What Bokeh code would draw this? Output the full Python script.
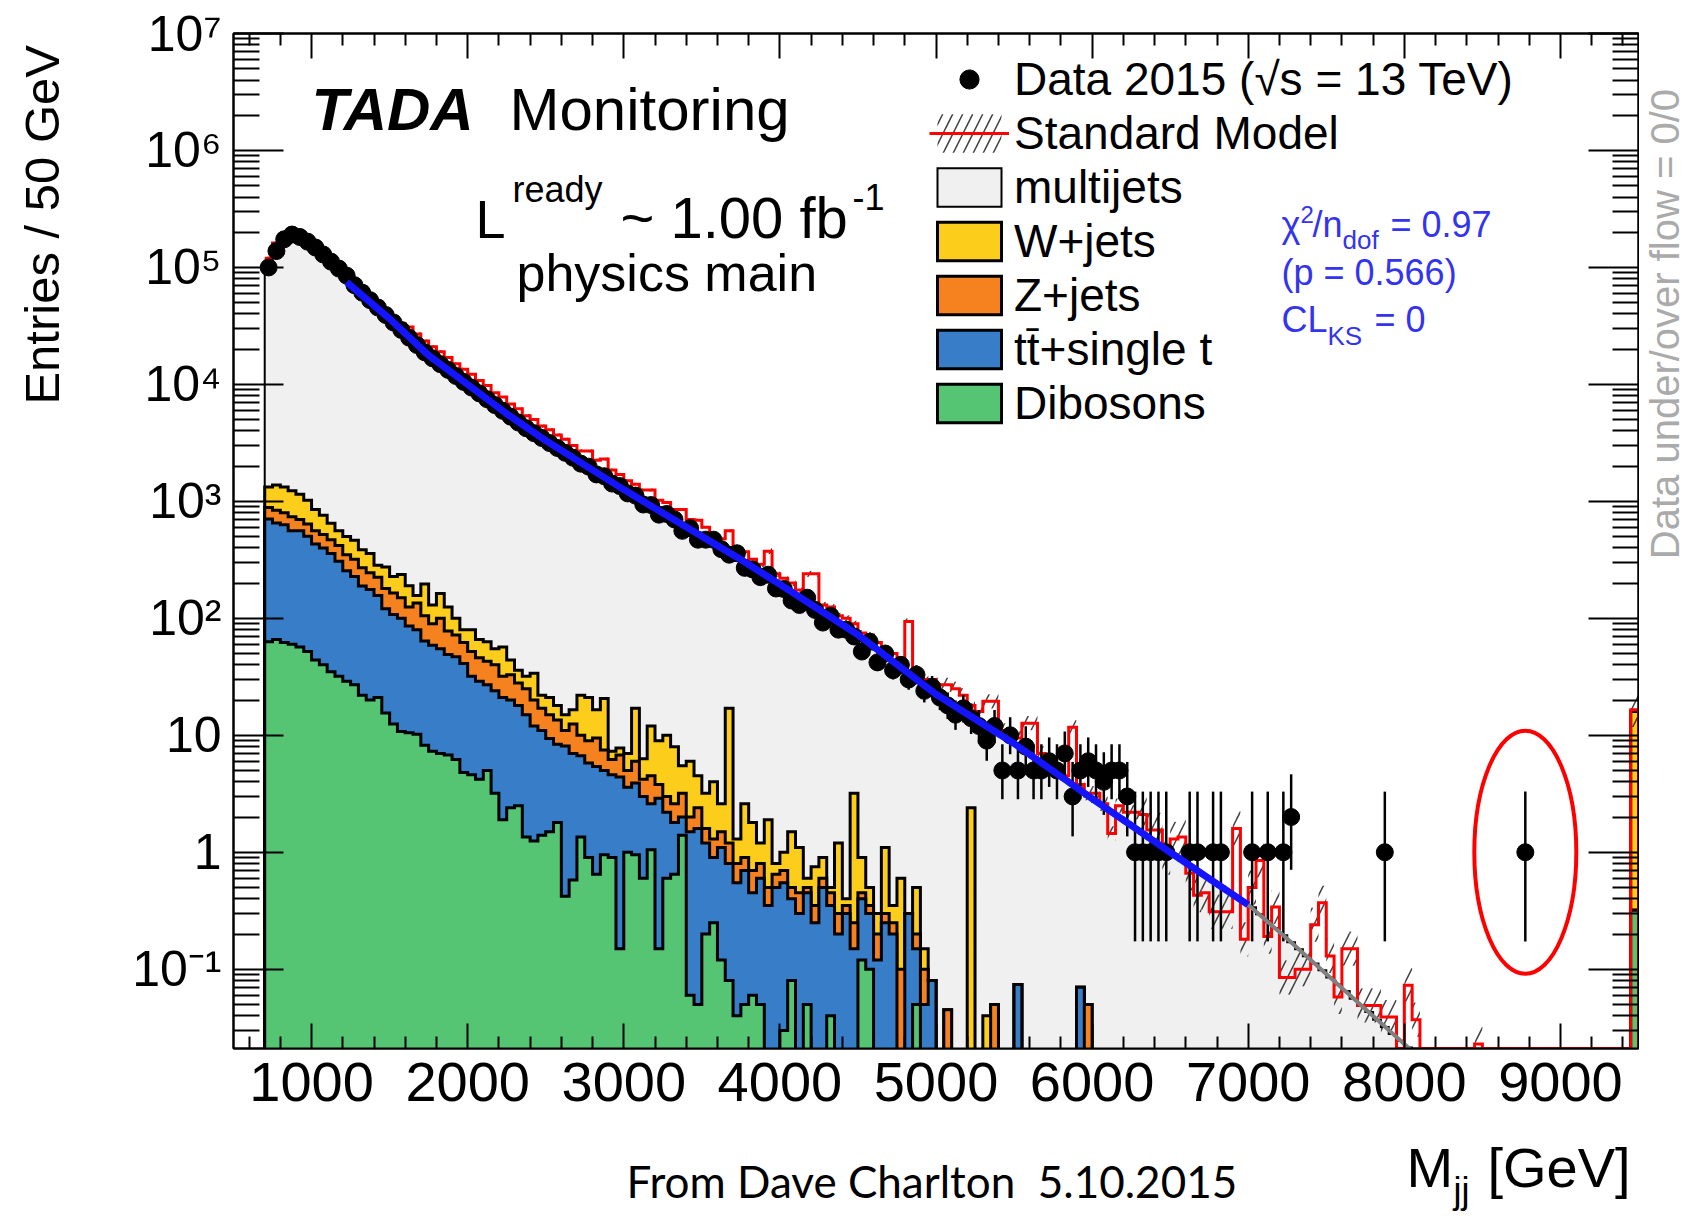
import math
import numpy as np
from bokeh.plotting import figure
from bokeh.layouts import column, row
from bokeh.models import (Range1d, FixedTicker, LogAxis, LinearAxis, CustomJSTickFormatter,
                          Label, Legend, LegendItem)
from bokeh.core.properties import value
from bokeh.embed import file_html
from bokeh.resources import INLINE

# ---------------- values ----------------
FIRST_EDGE = 700.0      # GeV, first filled bin
BIN_WIDTH = 50.0        # GeV
N_BINS = 176            # 700 ... 9500 GeV (last bin holds the overflow)

data_counts = [
    100000, 138000, 174000, 191000, 182000, 166000, 148000, 129000, 112000, 97700,
    85100, 70500, 60800, 52500, 45400, 39200, 33800, 29200, 25100, 21700,
    18800, 16700, 14900, 13300, 11800, 10500, 9400, 8380, 7470, 6650,
    5940, 5300, 4720, 4220, 3830, 3480, 3150, 2860, 2600, 2360,
    2100, 1980, 1700, 1640, 1420, 1350, 1170, 1120, 940, 930,
    770, 780, 700, 560, 590, 470, 470, 470, 390, 350,
    360, 270, 262, 225, 236, 180, 178, 142, 130, 150,
    118, 92, 105, 80, 80, 70, 52, 63, 42, 50,
    36, 40, 30, 33, 24, 26, 21, 18, 15, 17,
    14, 12, 9, 12, 5, 10, 5, 8, 5, 5,
    6, 5, 7, 3, 5, 6, 5, 4, 5, 5,
    3, 1, 1, 1, 1, 1, 0, 0, 1, 1,
    0, 1, 1, 0, 0, 0, 1, 0, 1, 0,
    1, 2, 0, 0, 0, 0, 0, 0, 0, 0,
    0, 0, 0, 1, 0, 0, 0, 0, 0, 0,
    0, 0, 0, 0, 0, 0, 0, 0, 0, 0,
    0, 1, 0, 0, 0, 0, 0, 0, 0, 0,
    0, 0, 0, 0, 0, 0]

# Standard Model total (red histogram)
sm_total = [
    120000, 162000, 195000, 210000, 200000, 180000, 160000, 140000, 122000, 107000,
    93000, 79000, 68000, 58500, 51000, 44000, 38000, 33000, 31000, 27000,
    23500, 21000, 19000, 17000, 15000, 13500, 12200, 10800, 9800, 8500,
    7800, 6800, 6200, 5400, 5000, 4400, 4100, 3700, 3400, 3000,
    2700, 2700, 2250, 2300, 1850, 1700, 1500, 1400, 1250, 1250,
    1020, 980, 850, 850, 700, 690, 600, 520, 480, 560,
    400, 370, 320, 290, 375, 240, 220, 200, 175, 240,
    240, 130, 125, 105, 100, 90, 75, 72, 62, 55,
    50, 42, 94, 34, 30, 30, 27, 27, 25, 22,
    18, 16, 19.5, 19.5, 11, 10, 9.5, 12.7, 12.7, 7,
    6, 5.5, 4.5, 11.7, 3.8, 3.2, 3.2, 2.6, 1.45, 2.5,
    2.2, 2.2, 2.1, 1.55, 1.55, 0.9, 1.3, 1.35, 0.66, 0.43,
    0.45, 0.31, 0.31, 0.31, 1.6, 0.18, 0.5, 0.85, 0.19, 0.34,
    0.085, 0.085, 0.1, 0.1, 0.24, 0.37, 0.13, 0.058, 0.15, 0.15,
    0.049, 0.049, 0.049, 0.039, 0.039, 0, 0.073, 0.037, 0, 0,
    0, 0, 0, 0, 0, 0.023, 0, 0, 0, 0,
    0, 0, 0, 0, 0, 0, 0, 0, 0, 0,
    0, 0, 0, 0, 0, 16.5]

# stack height of the full stack (multijets on top)
multijets_level = [
    100000, 138000, 174000, 191000, 182000, 166000, 148000, 129000, 112000, 97700,
    85100, 70500, 60800, 52500, 45400, 39200, 33800, 29200, 25100, 21700,
    18800, 16700, 14900, 13300, 11800, 10500, 9400, 8380, 7470, 6650,
    5940, 5300, 4720, 4220, 3830, 3480, 3150, 2860, 2600, 2360,
    2140, 1940, 1760, 1600, 1450, 1320, 1200, 1090, 997, 910,
    830, 758, 692, 631, 576, 526, 480, 438, 400, 365,
    333, 304, 275, 249, 226, 205, 185, 168, 152, 138,
    125, 113, 102, 93, 84, 76, 68, 61, 54, 48,
    43, 38, 34, 30, 27, 24, 21.3, 19.4, 17.6, 16,
    14.5, 13.2, 11.9, 10.8, 9.8, 8.9, 8.1, 7.2, 6.5, 5.8,
    5.2, 4.7, 4.2, 3.8, 3.4, 3.0, 2.7, 2.5, 2.2, 2.0,
    1.8, 1.61, 1.45, 1.30, 1.17, 1.05, 0.95, 0.855, 0.77, 0.695,
    0.627, 0.565, 0.51, 0.46, 0.414, 0.373, 0.339, 0.295, 0.257, 0.224,
    0.195, 0.17, 0.148, 0.129, 0.112, 0.098, 0.085, 0.074, 0.065, 0.056,
    0.049, 0.043, 0.037, 0.032, 0.028, 0.0245, 0.0214, 0.0186]

# cumulative stack heights of the small backgrounds (bins from 700 GeV)
wjets_level = [
    1330, 1380, 1330, 1230, 1150, 1020, 850, 760, 650, 560,
    500, 465, 385, 358, 285, 275, 228, 237, 190, 157,
    197, 130, 163, 125, 100, 80, 80, 66, 63, 55,
    57, 44, 36, 32, 34, 22, 21, 18, 15, 16.5,
    22, 21, 16.5, 20.6, 7.3, 7.8, 7.0, 17, 6.3, 12,
    9, 10, 8, 5.5, 6, 4.5, 3.2, 4, 2.6, 17,
    1.3, 2.6, 1.8, 1.2, 1.9, 0.8, 1.0, 1.5, 1.1, 0.6,
    0.75, 0.9, 0.5, 1.2, 0.4, 3.2, 0.9, 0.5, 0.3, 1.1,
    0.35, 0.6, 0.3, 0.5, 0.15, 0.08, 0, 0.045, 0, 0,
    2.4, 0, 0.04, 0.05, 0, 0, 0.074, 0, 0, 0,
    0, 0, 0, 0, 0.07, 0.05]
zjets_level = [
    884, 840, 800, 740, 700, 640, 560, 520, 470, 420,
    350, 320, 270, 245, 225, 180, 165, 150, 125, 135,
    105, 90, 100, 78, 72, 62, 52, 46, 43, 40,
    32, 33, 28, 25, 20, 17, 15, 13.5, 11, 12.5,
    10, 9, 9.5, 7.5, 6.2, 6.8, 5.0, 6.0, 4.2, 4.5,
    3.8, 3.0, 2.6, 3.2, 2.0, 2.4, 1.6, 1.3, 1.5, 1.2,
    0.8, 0.9, 0.7, 0.8, 0.5, 0.65, 0.7, 0.5, 0.45, 0.5,
    0.35, 0.6, 0.45, 0.3, 0.35, 0.25, 0.45, 0.35, 0.2, 0.3,
    0.25, 0.1, 0.3, 0.2, 0.1, 0.08, 0, 0.045, 0, 0,
    0, 0, 0, 0.05, 0, 0, 0.074, 0, 0, 0,
    0, 0, 0, 0, 0.07, 0.05]
top_level = [
    705, 653, 630, 562, 562, 502, 432, 400, 358, 308,
    255, 228, 189, 176, 157, 121, 108, 100, 86, 80,
    64, 59, 55, 49, 47, 41, 32, 29, 27, 24,
    21, 20, 18, 15, 12, 11, 9.4, 8.4, 8.1, 7.0,
    6.7, 5.8, 5.4, 5.0, 4.6, 4.4, 3.6, 3.9, 3.0, 2.6,
    2.9, 2.2, 1.8, 2.0, 1.5, 1.6, 1.2, 0.9, 1.1, 0.8,
    0.55, 0.7, 0.45, 0.6, 0.35, 0.5, 0.55, 0.4, 0.3, 0.45,
    0.25, 0.5, 0.35, 0.2, 0.3, 0.15, 0.4, 0.3, 0.12, 0.25,
    0.2, 0, 0.3, 0.15, 0.05, 0.08, 0, 0, 0, 0,
    0, 0, 0, 0, 0, 0, 0.074, 0, 0, 0,
    0, 0, 0, 0, 0.07, 0]
dibosons_level = [
    63, 66, 62, 60, 57, 52, 44, 40, 35, 32,
    29, 27, 22, 20, 21, 15.5, 12.5, 10.8, 10.5, 10.2,
    8.2, 7.3, 7.0, 6.8, 6.2, 4.8, 4.6, 4.2, 5.0, 3.2,
    1.9, 2.4, 2.5, 1.35, 1.25, 1.4, 1.5, 1.8, 0.42, 0.58,
    1.35, 0.9, 0.65, 0.95, 0.9, 0.15, 1.0, 0.95, 0.6, 1.05,
    0.15, 0.6, 0.65, 1.4, 0.06, 0.05, 0.2, 0.25, 0.12, 0.08,
    0.04, 0.05, 0.06, 0.05, 0, 0, 0.03, 0.08, 0, 0.05,
    0, 0, 0.04, 0, 0, 0, 0.12, 0.1, 0, 0,
    0, 0, 0, 0.05]
overflow_wjets_level = 16.0
overflow_dibosons_level = 0.32

# fitted dijet function (blue) and its extrapolation (grey)
fit_mass = [1225, 1500, 1750, 2000, 2250, 2500, 2750, 3000, 3250, 3500, 3750, 4000,
            4250, 4500, 4750, 5000, 5250, 5500, 5750, 6000, 6250, 6500, 6750, 7000]
fit_value = [75000, 36400, 17700, 9980, 5610, 3310, 2040, 1260, 794, 502, 318, 195,
             119, 72.4, 40.3, 22.4, 13.8, 8.51, 4.95, 2.88, 1.70, 1.0, 0.596, 0.355]
extrap_mass = [7000, 7250, 7500, 7750, 8000, 8100]
extrap_value = [0.355, 0.182, 0.0912, 0.0457, 0.0229, 0.0174]

# relative SM uncertainty (hatched band), by mass region
unc_region_edges = [700, 3700, 5000, 6300, 9500]
unc_region_rel = [0.03, 0.06, 0.15, 0.40]

x_major_ticks = [1000, 2000, 3000, 4000, 5000, 6000, 7000, 8000, 9000]
y_decades = [-1, 0, 1, 2, 3, 4, 5, 6, 7]

# ---------------- geometry / style ----------------
W, H = 1692, 1216
W_LEFT, W_RIGHT = 80, 53          # side strips holding the rotated titles
H_TOP = 1130                      # height of the top row (main plot)
H_BOTTOM = H - H_TOP
FL, FR, FT, FB = 233, 1638, 33, 1048   # frame edges on the page
Y_MIN, Y_MAX = 0.021, 1e7
X_MIN, X_MAX = 500, 9500
FLOOR = 1e-4
FONT = "Liberation Sans"
MID = 0.35                         # baseline -> text-box middle, in font sizes

C_MJ, C_W, C_Z, C_TOP, C_DIB = "#f0f0f0", "#fccd1b", "#f5821f", "#377dc8", "#55c473"
C_INFO = "#3434ee"

W_MAIN = W - W_LEFT - W_RIGHT
p = figure(width=W_MAIN, height=H_TOP, x_range=Range1d(X_MIN, X_MAX),
           y_range=Range1d(Y_MIN, Y_MAX), y_axis_type="log", output_backend="svg",
           toolbar_location=None, title=None,
           min_border_left=FL - W_LEFT, min_border_right=(W - W_RIGHT) - FR,
           min_border_top=FT, min_border_bottom=H_TOP - FB)
p.grid.visible = False
p.outline_line_color = "black"
p.outline_line_width = 2
p.background_fill_color = "white"
p.border_fill_color = "white"

edges = FIRST_EDGE + BIN_WIDTH * np.arange(N_BINS + 1)
lo, hi = edges[:-1], edges[1:]
centers = 0.5 * (lo + hi)


def full(head, overflow=0.0):
    arr = np.zeros(N_BINS)
    arr[:len(head)] = head
    if overflow:
        arr[-1] = overflow
    return arr


def step_outline(vals, floor, close_left=True):
    v = np.where(np.asarray(vals) > 0, vals, floor)
    xs = np.concatenate([[edges[0]], np.column_stack([lo, hi]).ravel(), [edges[-1]]])
    ys = np.concatenate([[floor], np.column_stack([v, v]).ravel(), [floor]])
    if not close_left:
        xs, ys = xs[1:], ys[1:]
    return xs, ys


mj = full(multijets_level)
wl = full(wjets_level, overflow_wjets_level)
zl = full(zjets_level, overflow_dibosons_level)
tl = full(top_level, overflow_dibosons_level)
dl = full(dibosons_level, overflow_dibosons_level)
sm = np.asarray(sm_total, dtype=float)
dat = np.asarray(data_counts, dtype=float)

stack_r = {}
for name, lvl, col, lw in [("mj", mj, C_MJ, 2), ("w", wl, C_W, 3), ("z", zl, C_Z, 3),
                           ("t", tl, C_TOP, 3), ("d", dl, C_DIB, 3)]:
    xs, ys = step_outline(lvl, FLOOR)
    stack_r[name] = p.patch(xs, ys, fill_color=col, line_color="black", line_width=lw,
                            line_join="miter")

# hatched SM uncertainty
rel = np.zeros(N_BINS)
for a, b, r in zip(unc_region_edges[:-1], unc_region_edges[1:], unc_region_rel):
    rel[(centers >= a) & (centers < b)] = r
m = sm > 0
hatch_r = p.quad(left=lo[m], right=hi[m], bottom=sm[m] / (1 + rel[m]), top=sm[m] * (1 + rel[m]),
                 fill_alpha=0, line_alpha=0, hatch_pattern="/", hatch_color="black",
                 hatch_weight=1.5, hatch_scale=20, hatch_alpha=0.75)

# red SM outline
xs, ys = step_outline(sm, Y_MIN, close_left=False)
red_r = p.line(xs, ys, line_color="#ff0000", line_width=3, line_join="miter")

# data with Poisson (Garwood) intervals
garwood = {1: (0.173, 3.300), 2: (0.708, 4.638), 3: (1.367, 5.918), 4: (2.086, 7.163),
           5: (2.840, 8.382), 6: (3.620, 9.584), 7: (4.419, 10.77), 8: (5.232, 11.95),
           9: (6.057, 13.11), 10: (6.891, 14.27)}
md = dat > 0
dx, dn = centers[md], dat[md]
elo = np.array([garwood[int(n)][0] if n <= 10 else n - math.sqrt(n) for n in dn])
ehi = np.array([garwood[int(n)][1] if n <= 10 else n + math.sqrt(n) + 1 for n in dn])
p.segment(x0=dx, y0=elo, x1=dx, y1=ehi, line_color="black", line_width=2.5)
data_r = p.scatter(dx, dn, marker="circle", size=17, fill_color="black", line_color="black")

# fit and its extrapolation
p.line(fit_mass, fit_value, line_color="#1414ff", line_width=7)
p.line(extrap_mass, extrap_value, line_color="#808080", line_width=4)

# ellipse around the highest-mass event
idx = int(np.where((dat > 0) & (centers > 8500))[0][0])
p.ellipse(x=[centers[idx]], y=[dat[idx]], width=[102], height=[243],
          width_units="screen", height_units="screen",
          fill_alpha=0, line_color="#ff0000", line_width=4)

# ---------------- axes ----------------
x_minor = [v for v in range(600, 9500, 200) if v % 1000 != 0]
y_major = [10.0 ** e for e in y_decades]
y_minor = [k * 10.0 ** e for e in range(-2, 7) for k in range(2, 10)
           if Y_MIN < k * 10.0 ** e < Y_MAX]

sup_js = """
const e = Math.round(Math.log10(tick));
if (e === 0) { return "1"; }
if (e === 1) { return "10"; }
const sup = {"-": "\\u207b", "0": "\\u2070", "1": "\\u00b9", "2": "\\u00b2", "3": "\\u00b3",
             "4": "\\u2074", "5": "\\u2075", "6": "\\u2076", "7": "\\u2077", "8": "\\u2078",
             "9": "\\u2079"};
return "10" + String(e).split("").map(c => sup[c]).join("");
"""

xb = p.xaxis[0]
yl = p.yaxis[0]
xb.ticker = FixedTicker(ticks=x_major_ticks, minor_ticks=x_minor)
yl.ticker = FixedTicker(ticks=y_major, minor_ticks=y_minor)
yl.formatter = CustomJSTickFormatter(code=sup_js)

xt = LinearAxis(ticker=FixedTicker(ticks=x_major_ticks, minor_ticks=x_minor),
                formatter=CustomJSTickFormatter(code="return '';"))
yr = LogAxis(ticker=FixedTicker(ticks=y_major, minor_ticks=y_minor),
             formatter=CustomJSTickFormatter(code="return '';"))
p.add_layout(xt, "above")
p.add_layout(yr, "right")

for ax in (xb, xt):
    ax.major_tick_in, ax.minor_tick_in = 25, 12
for ax in (yl, yr):
    ax.major_tick_in, ax.minor_tick_in = 50, 26
for ax in (xb, xt, yl, yr):
    ax.major_tick_out = 0
    ax.minor_tick_out = 0
    ax.axis_line_width = 2
    ax.major_tick_line_width = 2
    ax.minor_tick_line_width = 2
    ax.major_label_text_font = FONT
    ax.major_label_text_color = "black"
for ax in (xt, yr):
    ax.major_label_text_font_size = "1px"
    ax.major_label_standoff = 0
xb.major_label_text_font_size = "56px"
xb.major_label_standoff = 14
yl.major_label_text_font_size = "50px"
yl.major_label_standoff = 12

# ---------------- legend ----------------
legend = Legend(items=[
    LegendItem(label="Data 2015 (\u221as = 13 TeV)", renderers=[data_r]),
    LegendItem(label="Standard Model", renderers=[hatch_r, red_r]),
    LegendItem(label="multijets", renderers=[stack_r["mj"]]),
    LegendItem(label="W+jets", renderers=[stack_r["w"]]),
    LegendItem(label="Z+jets", renderers=[stack_r["z"]]),
    LegendItem(label="tt\u0304+single t", renderers=[stack_r["t"]]),
    LegendItem(label="Dibosons", renderers=[stack_r["d"]]),
], location=(696, 618), glyph_width=80, glyph_height=48, label_standoff=5, spacing=0,
    padding=0, margin=0, border_line_alpha=0, background_fill_alpha=0,
    label_text_font=FONT, label_text_font_size="46px", label_text_color="black")
p.add_layout(legend)


# ---------------- texts inside the frame ----------------
def add_text(text, x, baseline_y, size, color="black", font=FONT, style="normal"):
    y_mid = baseline_y - MID * size
    p.add_layout(Label(x=x - FL, y=FB - y_mid, x_units="screen", y_units="screen", text=text,
                       text_font=font, text_font_size=f"{size}px", text_color=color,
                       text_font_style=style, text_align="left", text_baseline="middle"))


add_text("TADA", 311, 130, 60, style="bold italic")
add_text("Monitoring", 509, 130, 60)
add_text("L", 475, 237, 54)
add_text("ready", 512, 202, 36)
add_text("~ 1.00 fb", 620, 237, 58)
add_text("-1", 852, 209, 36)
add_text("physics main", 516, 291, 52)

add_text("\u03c7", 1281, 237, 36, color=C_INFO)
add_text("2", 1300, 222, 24, color=C_INFO)
add_text("/n", 1312, 237, 36, color=C_INFO)
add_text("dof", 1342, 249, 26, color=C_INFO)
add_text("= 0.97", 1390, 237, 36, color=C_INFO)
add_text("(p = 0.566)", 1281, 285, 36, color=C_INFO)
add_text("CL", 1281, 332, 36, color=C_INFO)
add_text("KS", 1327, 345, 26, color=C_INFO)
add_text("= 0", 1374, 332, 36, color=C_INFO)


# ---------------- strips around the plot for the outer titles ----------------
def strip(width, height):
    f = figure(width=width, height=height, x_range=Range1d(0, width),
               y_range=Range1d(height, 0), output_backend="svg", toolbar_location=None,
               title=None, x_axis_location=None, y_axis_location=None, min_border=0)
    f.grid.visible = False
    f.outline_line_color = None
    f.background_fill_color = "white"
    f.border_fill_color = "white"
    return f


def strip_text(f, text, x, y, size, color="black", font=FONT, angle=0.0, align="left"):
    # (x, y): anchor on the middle line of the glyph box
    f.text(x=[x], y=[y], text=[text], text_font=value(font), text_font_size=f"{size}px",
           text_color=color, text_align=align, text_baseline="middle", angle=angle)


left = strip(W_LEFT, H_TOP)
strip_text(left, "Entries / 50 GeV", 59 - MID * 49, 213, 49,
           angle=math.pi / 2, align="center")

right = strip(W_RIGHT, H_TOP)
strip_text(right, "Data under/over flow = 0/0", 1678 - MID * 40 - (W - W_RIGHT),
           (86 + 561) / 2, 40, color="#aaaaaa", angle=math.pi / 2, align="center")

bottom = strip(W, H_BOTTOM)
strip_text(bottom, "M", 1406, 1187 - MID * 56 - H_TOP, 56)
strip_text(bottom, "jj", 1453, 1203 - MID * 36 - H_TOP, 36)
strip_text(bottom, "[GeV]", 1487, 1187 - MID * 56 - H_TOP, 56)
strip_text(bottom, "From Dave Charlton\u00a0 5.10.2015", 626, 1198 - 0.39 * 44 - H_TOP, 44,
           font="Lato")

page = column(row(left, p, right, spacing=0), bottom, spacing=0)
open("out.html", "w").write(file_html(page, INLINE))
